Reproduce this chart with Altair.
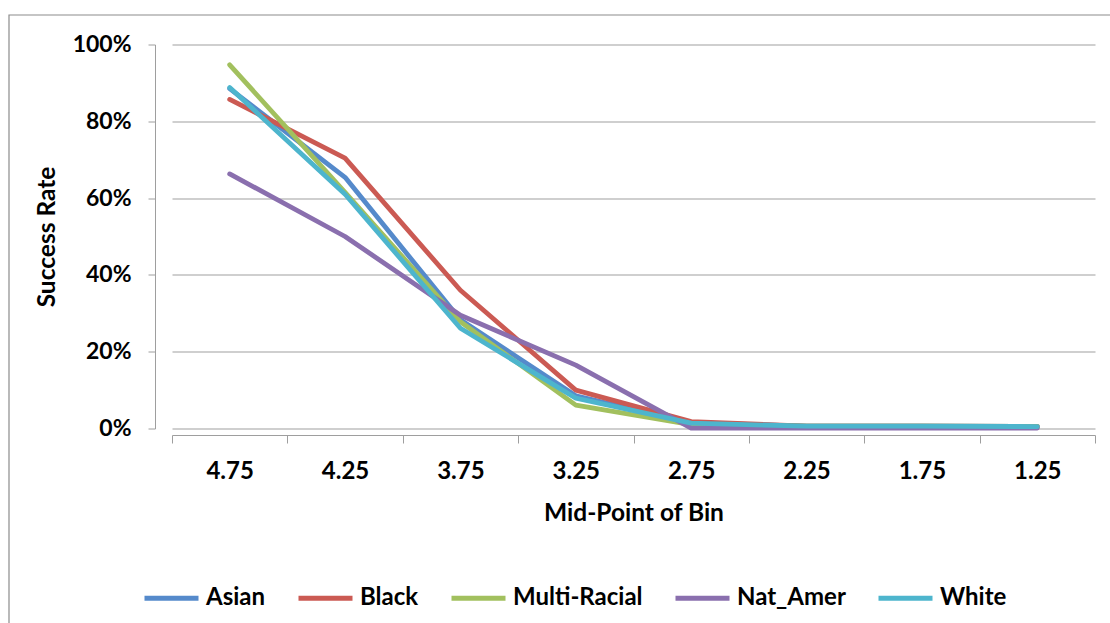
import altair as alt
import pandas as pd

bins = ["4.75", "4.25", "3.75", "3.25", "2.75", "2.25", "1.75", "1.25"]
asian = [0.885, 0.654, 0.283, 0.085, 0.015, 0.006, 0.006, 0.005]
black = [0.857, 0.704, 0.360, 0.100, 0.018, 0.006, 0.006, 0.005]
multi = [0.947, 0.615, 0.278, 0.061, 0.010, 0.006, 0.006, 0.005]
nat_amer = [0.663, 0.500, 0.295, 0.165, 0.001, 0.001, 0.001, 0.001]
white = [0.888, 0.610, 0.261, 0.079, 0.014, 0.006, 0.006, 0.005]

series_names = ["Asian", "Black", "Multi-Racial", "Nat_Amer", "White"]
series_values = [asian, black, multi, nat_amer, white]
series_colors = ["#558ACB", "#CB5A53", "#A2C05E", "#8A6FAE", "#4DB5CD"]

rows = []
for name, vals in zip(series_names, series_values):
    for b, v in zip(bins, vals):
        rows.append({"bin": b, "rate": v, "group": name})
df = pd.DataFrame(rows)

FONT = "Lato"

lines = alt.Chart(df).mark_line(strokeWidth=4.8, strokeCap="round", strokeJoin="round").encode(
    x=alt.X(
        "bin:N",
        sort=bins,
        bandPosition=0.5,
        scale=alt.Scale(type="band", paddingInner=0, paddingOuter=0),
        axis=alt.Axis(
            title="Mid-Point of Bin",
            labelAngle=0,
            offset=6.5,
            tickBand="extent",
            tickSize=8,
            tickColor="#9e9e9e",
            domainColor="#9e9e9e",
            labelPadding=16,
            labelFontSize=24,
            titlePadding=18,
            grid=False,
        ),
    ),
    y=alt.Y(
        "rate:Q",
        scale=alt.Scale(domain=[0, 1], nice=False),
        axis=alt.Axis(
            title="Success Rate",
            format=".0%",
            values=[0, 0.2, 0.4, 0.6, 0.8, 1.0],
            offset=17,
            tickSize=7,
            tickColor="#9e9e9e",
            domainColor="#9e9e9e",
            labelPadding=17,
            titlePadding=13,
            grid=True,
            gridColor="#a0a0a0",
            gridWidth=1.2,
        ),
    ),
    color=alt.Color(
        "group:N",
        scale=alt.Scale(domain=series_names, range=series_colors),
        legend=alt.Legend(
            title=None,
            orient="none",
            direction="horizontal",
            legendX=-30,
            legendY=524,
            symbolType="stroke",
            symbolSize=2916,
            symbolStrokeWidth=4.8,
            labelFontSize=24,
            labelFont=FONT,
            labelFontWeight="bold",
            labelColor="black",
            labelOffset=5,
            columnPadding=22,
        ),
    ),
)

frame = alt.Chart(pd.DataFrame({"a": [0]})).mark_rect(
    fill=None, stroke="#8c8c8c", strokeWidth=1.2, clip=False
).encode(
    x=alt.value(-163),
    x2=alt.value(1000),
    y=alt.value(-29.5),
    y2=alt.value(700),
)

chart = alt.layer(frame, lines).properties(
    width=923,
    height=384,
    autosize=alt.AutoSizeParams(type="none"),
    padding={"left": 172, "top": 44.5, "right": 15, "bottom": 194.5},
    background="white",
).configure_view(stroke=None).configure_axis(
    labelFont=FONT,
    labelFontSize=23,
    labelFontWeight="bold",
    labelColor="black",
    titleFont=FONT,
    titleFontSize=24.5,
    titleFontWeight="bold",
    titleColor="black",
)

chart.save("out.html", embed_options={"renderer": "svg", "actions": False})
